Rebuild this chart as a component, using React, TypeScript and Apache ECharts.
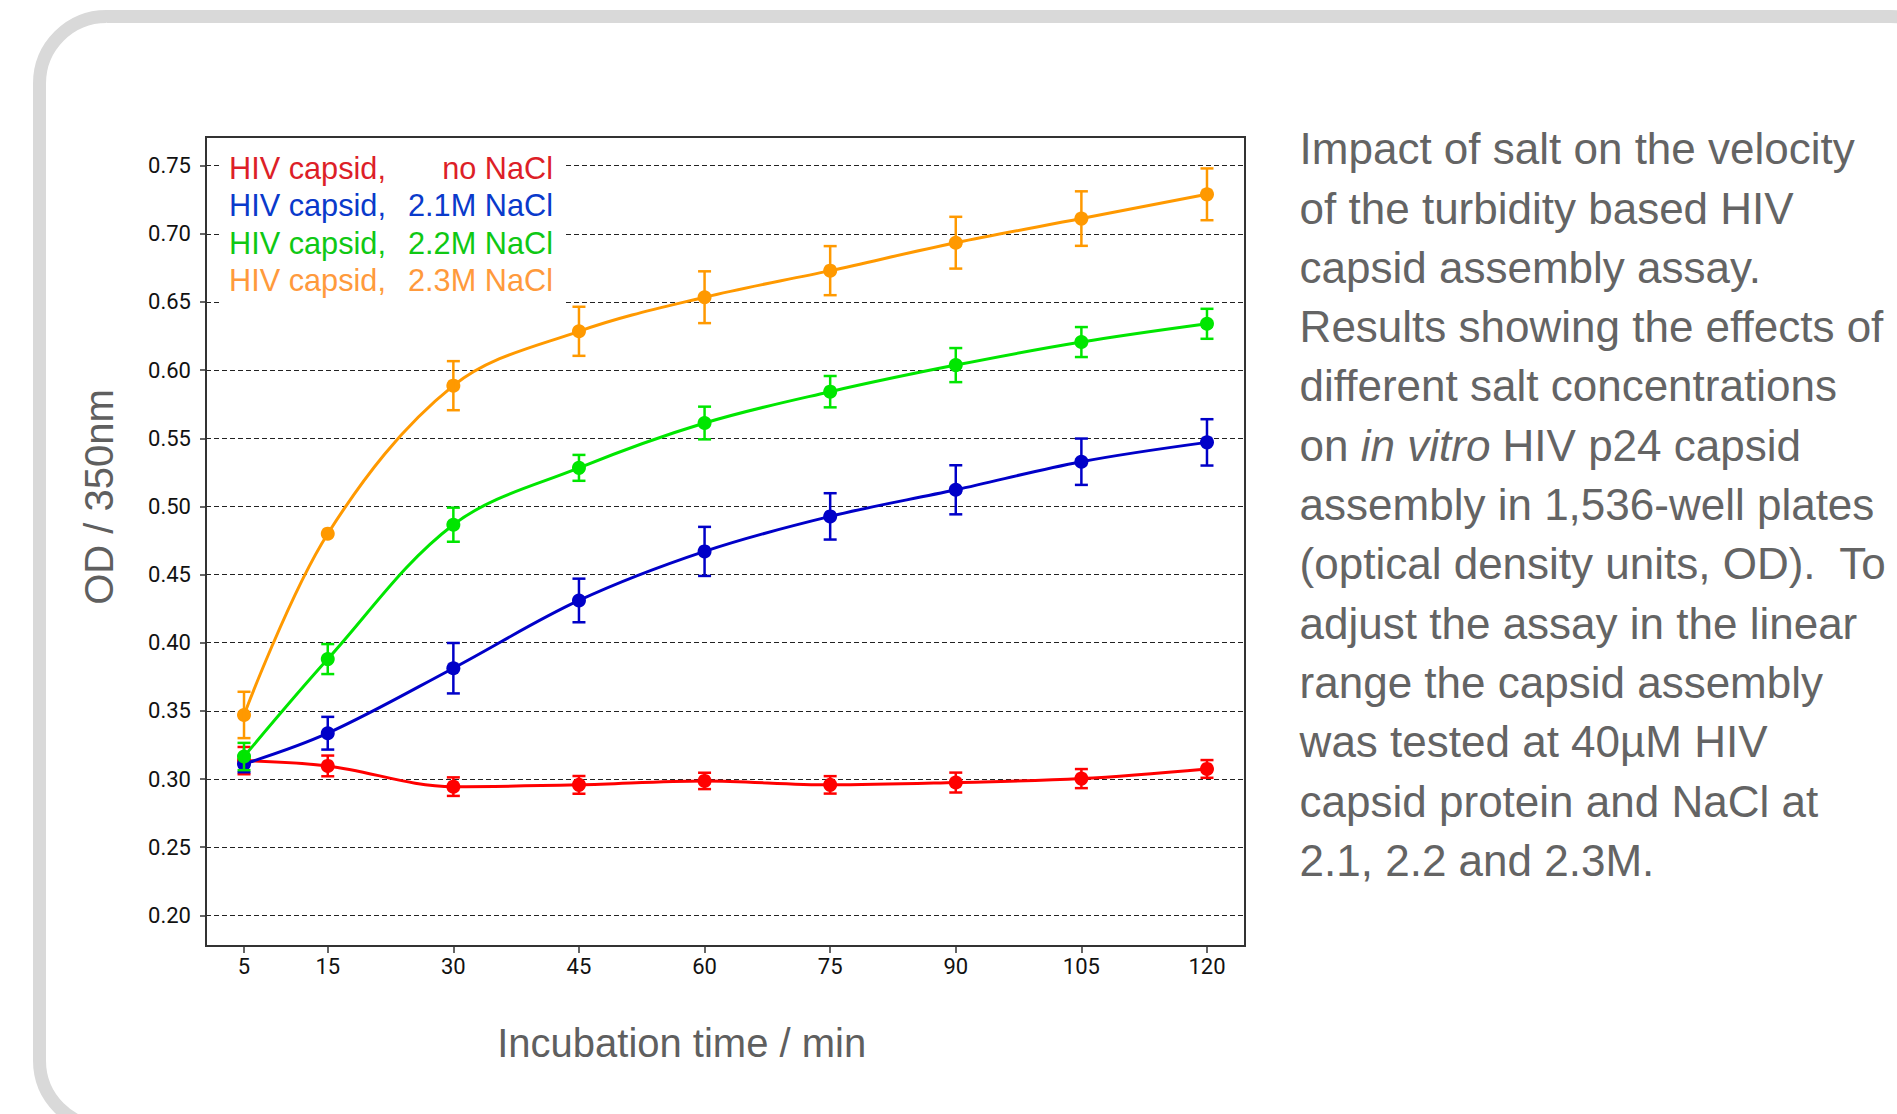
import React, { useEffect, useRef } from "react";
import * as echarts from "echarts";

// ---- data ----
const times = [5, 15, 30, 45, 60, 75, 90, 105, 120];
const xTickValues = [5, 15, 30, 45, 60, 75, 90, 105, 120];

const seriesNames = [
  "HIV capsid, no NaCl",
  "HIV capsid, 2.1M NaCl",
  "HIV capsid, 2.2M NaCl",
  "HIV capsid, 2.3M NaCl",
];
const legendLeftText = ["HIV capsid,", "HIV capsid,", "HIV capsid,", "HIV capsid,"];
const legendRightText = ["no NaCl", "2.1M NaCl", "2.2M NaCl", "2.3M NaCl"];

const noNaCl = [0.3135, 0.3096, 0.2944, 0.2957, 0.2986, 0.2957, 0.2974, 0.3003, 0.3074];
const noNaClErr = [0.01, 0.0076, 0.0068, 0.0065, 0.006, 0.0064, 0.0073, 0.007, 0.0065];
const nacl21 = [0.311, 0.3336, 0.3813, 0.431, 0.467, 0.4927, 0.5122, 0.5328, 0.547];
const nacl21Err = [0.006, 0.012, 0.0185, 0.016, 0.018, 0.017, 0.018, 0.017, 0.017];
const nacl22 = [0.3165, 0.388, 0.4866, 0.5283, 0.5612, 0.5842, 0.6037, 0.6206, 0.634];
const nacl22Err = [0.01, 0.011, 0.0125, 0.0095, 0.012, 0.0115, 0.0125, 0.011, 0.011];
const nacl23 = [0.347, 0.48, 0.5886, 0.6285, 0.6535, 0.673, 0.6935, 0.7112, 0.729];
const nacl23Err = [0.017, 0, 0.018, 0.018, 0.019, 0.018, 0.019, 0.02, 0.019];

const seriesValues = [noNaCl, nacl21, nacl22, nacl23];
const seriesErrors = [noNaClErr, nacl21Err, nacl22Err, nacl23Err];

const xTitle = "Incubation time / min";
const yTitle = "OD / 350nm";

const captionLines = [
  "Impact of salt on the velocity",
  "of the turbidity based HIV",
  "capsid assembly assay.",
  "Results showing the effects of",
  "different salt concentrations",
  "on {i|in vitro} HIV p24 capsid",
  "assembly in 1,536-well plates",
  "(optical density units, OD).  To",
  "adjust the assay in the linear",
  "range the capsid assembly",
  "was tested at 40µM HIV",
  "capsid protein and NaCl at",
  "2.1, 2.2 and 2.3M.",
];

// ---- styles ----
const lineColors = ["#ff0000", "#0000c8", "#00e600", "#ff9900"];
const legendColors = ["#dd1f28", "#0a3acb", "#0fc814", "#ff9a3c"];
const SANS = "'Liberation Sans', Arial, Helvetica, sans-serif";
const TICK_FONT = "Roboto, 'Liberation Sans', Arial, sans-serif";

export default function App() {
  const ref = useRef<HTMLDivElement>(null);

  useEffect(() => {
    if (!ref.current) return;
    const chart = echarts.init(ref.current, null, { renderer: "svg" });

    const lineSeries = seriesValues.map((vals, si) => ({
      name: seriesNames[si],
      type: "line",
      data: times.map((t, i) => [t, vals[i]]),
      smooth: 0.35,
      symbol: "circle",
      symbolSize: 14,
      itemStyle: { color: lineColors[si] },
      lineStyle: { color: lineColors[si], width: 3 },
      clip: false,
      z: 3 + si * 2,
    }));

    const errSeries = seriesValues.map((vals, si) => ({
      name: seriesNames[si] + " error",
      type: "custom",
      data: times.map((t, i) => [t, vals[i] - seriesErrors[si][i], vals[i] + seriesErrors[si][i]]),
      encode: { x: 0, y: [1, 2] },
      clip: false,
      silent: true,
      z: 4 + si * 2,
      renderItem: (params: any, api: any) => {
        const x = api.value(0);
        const lo = api.value(1);
        const hi = api.value(2);
        if (hi - lo < 1e-6) return null;
        const p1 = api.coord([x, lo]);
        const p2 = api.coord([x, hi]);
        const hw = 6.5;
        const st = { stroke: lineColors[si], lineWidth: 2.5 };
        return {
          type: "group",
          children: [
            { type: "line", shape: { x1: p1[0], y1: p1[1], x2: p2[0], y2: p2[1] }, style: st },
            { type: "line", shape: { x1: p1[0] - hw, y1: p1[1], x2: p1[0] + hw, y2: p1[1] }, style: st },
            { type: "line", shape: { x1: p2[0] - hw, y1: p2[1], x2: p2[0] + hw, y2: p2[1] }, style: st },
          ],
        };
      },
    }));

    const legendRows = [168.3, 205.8, 243.3, 280.8];
    const legendGraphics: any[] = [
      {
        type: "rect",
        shape: { x: 222, y: 148, width: 344, height: 157 },
        style: { fill: "#ffffff" },
        z: 50,
      },
    ];
    legendLeftText.forEach((txt, i) => {
      legendGraphics.push({
        type: "text",
        x: 229,
        y: legendRows[i],
        z: 51,
        style: {
          text: txt,
          fill: legendColors[i],
          fontSize: 30.7,
          fontFamily: SANS,
          textAlign: "left",
          textVerticalAlign: "middle",
        },
      });
      legendGraphics.push({
        type: "text",
        x: 553,
        y: legendRows[i],
        z: 51,
        style: {
          text: legendRightText[i],
          fill: legendColors[i],
          fontSize: 30.7,
          fontFamily: SANS,
          textAlign: "right",
          textVerticalAlign: "middle",
        },
      });
    });

    const option: any = {
      animation: false,
      backgroundColor: "#ffffff",
      grid: { left: 206, right: 652, top: 165.7, bottom: 1114 - 915.3, containLabel: false },
      xAxis: {
        type: "value",
        min: 0.46,
        max: 124.54,
        position: "bottom",
        offset: 30.7,
        axisLine: { show: false },
        splitLine: { show: false },
        axisTick: {
          show: true,
          length: 7,
          inside: false,
          customValues: xTickValues,
          lineStyle: { color: "#333", width: 1.5 },
        },
        axisLabel: {
          show: true,
          customValues: xTickValues,
          margin: 9,
          fontSize: 22,
          fontFamily: TICK_FONT,
          color: "#111",
        },
      },
      yAxis: {
        type: "value",
        min: 0.2,
        max: 0.75,
        interval: 0.05,
        axisLine: { show: false },
        axisTick: { show: true, length: 6, inside: false, lineStyle: { color: "#333", width: 1.5 } },
        axisLabel: {
          margin: 15,
          fontSize: 22,
          fontFamily: TICK_FONT,
          color: "#111",
          formatter: (v: number) => v.toFixed(2),
        },
        splitLine: { show: true, lineStyle: { color: "#222", type: [5, 3], width: 1.2 } },
      },
      series: [...lineSeries, ...errSeries],
      graphic: [
        {
          type: "rect",
          shape: { x: 39.5, y: 16.5, width: 1918, height: 1111, r: 67 },
          style: { fill: "none", stroke: "#d9d9d9", lineWidth: 13 },
          z: 1,
          silent: true,
        },
        {
          type: "rect",
          shape: { x: 206, y: 137, width: 1039, height: 809 },
          style: { fill: "none", stroke: "#333333", lineWidth: 2 },
          z: 60,
          silent: true,
        },
        ...legendGraphics,
        {
          type: "text",
          x: 681.7,
          y: 1042.8,
          style: {
            text: xTitle,
            fill: "#5f5f5f",
            fontSize: 40,
            fontFamily: SANS,
            textAlign: "center",
            textVerticalAlign: "middle",
          },
        },
        {
          type: "text",
          x: 99,
          y: 497,
          rotation: Math.PI / 2,
          style: {
            text: yTitle,
            fill: "#5f5f5f",
            fontSize: 40,
            fontFamily: SANS,
            textAlign: "center",
            textVerticalAlign: "middle",
          },
        },
        {
          type: "text",
          x: 1299.6,
          y: 148.8 - 59.3 / 2,
          style: {
            text: captionLines.join("\n"),
            fill: "#646464",
            fontSize: 44,
            fontFamily: SANS,
            lineHeight: 59.3,
            textAlign: "left",
            textVerticalAlign: "top",
            rich: {
              i: {
                fontStyle: "italic",
                fontSize: 44,
                fontFamily: SANS,
                fill: "#646464",
                lineHeight: 59.3,
              },
            },
          },
        },
      ],
    };

    chart.setOption(option);
    return () => chart.dispose();
  }, []);

  return (
    <div
      ref={ref}
      style={{ position: "fixed", left: 0, top: 0, width: 1897, height: 1114, background: "#fff" }}
    />
  );
}
